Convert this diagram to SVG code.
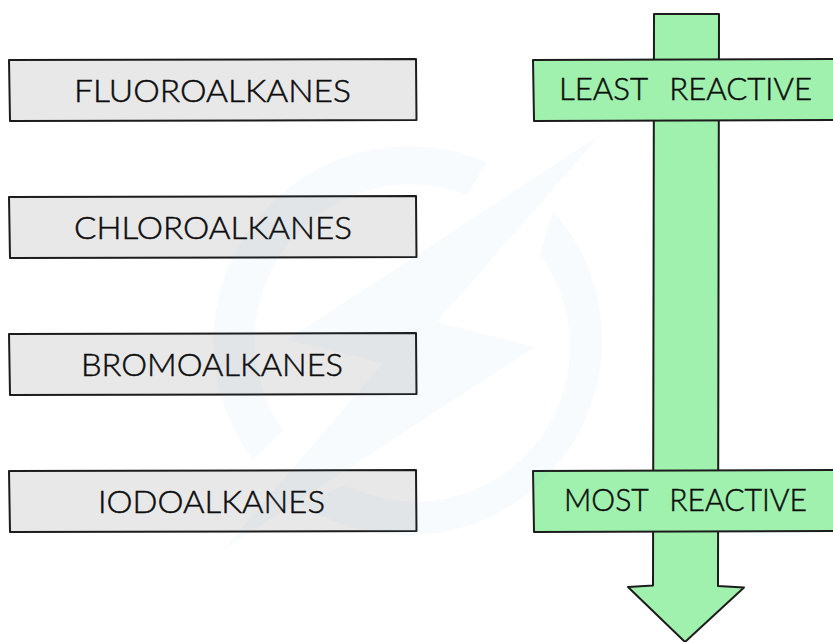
<svg xmlns="http://www.w3.org/2000/svg" width="833" height="642" viewBox="0 0 833 642">
  <style>
    .box { stroke: #1c1c1c; stroke-width: 2; stroke-linejoin: round; }
    .grey { fill: #e8e8e8; }
    .green { fill: #a0f0ae; }
    .label { font-family: "Lato", "Liberation Sans", sans-serif; font-size: 32px; font-weight: 300; fill: #0d0d0d; stroke: #0d0d0d; stroke-width: 0.5px; }
    .wide { word-spacing: 14px; }
    .mark { fill: #4d9fd0; }
  </style>
  <rect width="833" height="642" fill="#ffffff"/>
  <g id="connectors">
    <path id="reactivity-arrow" class="box green" d="M654 14 L719 14 L718 586 L744 587.5 L685 642 L628 587 L653 585.5 Z"/>
  </g>
  <g id="fluoroalkanes">
    <path class="box grey" d="M9 60 L416 59 L416.5 120 L10 121 Z"/>
    <text class="label" x="74" y="102" textLength="277" lengthAdjust="spacingAndGlyphs">FLUOROALKANES</text>
  </g>
  <g id="chloroalkanes">
    <path class="box grey" d="M9 197 L416 196 L416.5 257 L10 258 Z"/>
    <text class="label" x="74" y="239" textLength="278" lengthAdjust="spacingAndGlyphs">CHLOROALKANES</text>
  </g>
  <g id="bromoalkanes">
    <path class="box grey" d="M9 334 L416 333 L416.5 394 L10 395 Z"/>
    <text class="label" x="81" y="376" textLength="262" lengthAdjust="spacingAndGlyphs">BROMOALKANES</text>
  </g>
  <g id="iodoalkanes">
    <path class="box grey" d="M9 471 L416 470 L416.5 531 L10 532 Z"/>
    <text class="label" x="98" y="513" textLength="227" lengthAdjust="spacingAndGlyphs">IODOALKANES</text>
  </g>
  <g id="least-reactive">
    <path class="box green" d="M533 60 L834 59 L834 120 L534 121 Z"/>
    <text class="label wide" x="559" y="100" textLength="253" lengthAdjust="spacingAndGlyphs">LEAST REACTIVE</text>
  </g>
  <g id="most-reactive">
    <path class="box green" d="M533 471 L834 470 L834 531 L534 532 Z"/>
    <text class="label wide" x="564" y="511" textLength="243" lengthAdjust="spacingAndGlyphs">MOST REACTIVE</text>
  </g>
  <g id="watermark" opacity="0.032">
    <path class="mark" d="M600 135 L287 340 L383 363 L223 550 L535 347 L437 322 Z"/>
    <path class="mark" d="M487 162 A196 196 0 0 0 253 460 L283 430 A156 156 0 0 1 467 195 Z"/>
    <path class="mark" d="M553 211 A195 195 0 0 1 301 504 L345 485 A155 155 0 0 0 540 255 Z"/>
  </g>
</svg>
